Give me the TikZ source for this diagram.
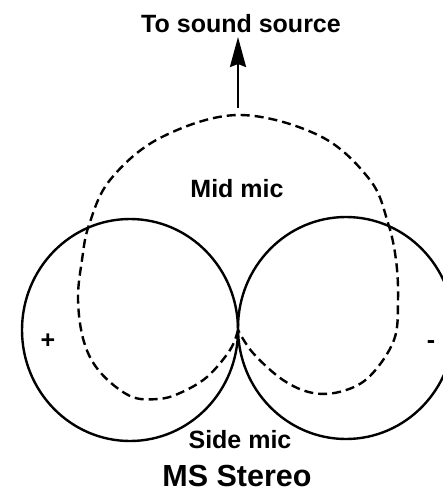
\documentclass[tikz,border=0pt]{standalone}
\usepackage{fontspec}
\setmainfont{Liberation Sans}
\usetikzlibrary{arrows.meta}
\tikzset{lbl/.style={font=\fontsize{25}{28}\selectfont\bfseries, inner sep=0pt},
  lobe/.style={draw=black, line width=2.4pt},
  midlobe/.style={draw=black, line width=2.4pt, dash pattern=on 9pt off 5pt}}

\begin{document}
\begin{tikzpicture}[x=1pt, y=-1pt]
	\useasboundingbox (0,0) rectangle (443,492);
	\node[lbl] (src) at (241,24) {To sound source};
	\node[lbl] (midlbl) at (237,189) {Mid mic};
	\node[lbl] (sidelbl) at (240,440) {Side mic};
	\node[lbl, font=\fontsize{30.5}{34}\selectfont\bfseries] (title) at (237,476) {MS Stereo};
	\node[lbl] (plus) at (48,341) {+};
	\node[lbl] (minus) at (431,345) {-};
	\coordinate (cusp) at (238,330);
	\coordinate (front) at (238,108);
	\coordinate (tip) at (238,37);
	
	% side mic: figure of eight
	\draw[lobe] (130,330) ellipse [x radius=108, y radius=111];
	\draw[lobe] (346,328) ellipse [x radius=108, y radius=111];
	
	% mid mic: cardioid
	\draw[midlobe] plot[smooth, tension=0.6] coordinates {(cusp) (230,350) (207,377) (180,393) (158,399) (130,396)
		(100,372) (84,342) (78,300) (82,260) (89,225) (110,180) (160,138) (238,115) (320,136) (370,180) (388,223)
		(396,260) (398,300) (394,340) (370,376) (343,391) (313,393) (283,380) (253,353) (cusp)};
	
	\draw[line width=2.4pt, -{Stealth[length=30pt, width=16pt, inset=3pt]}] (front) -- (tip);
\end{tikzpicture}
\end{document}
